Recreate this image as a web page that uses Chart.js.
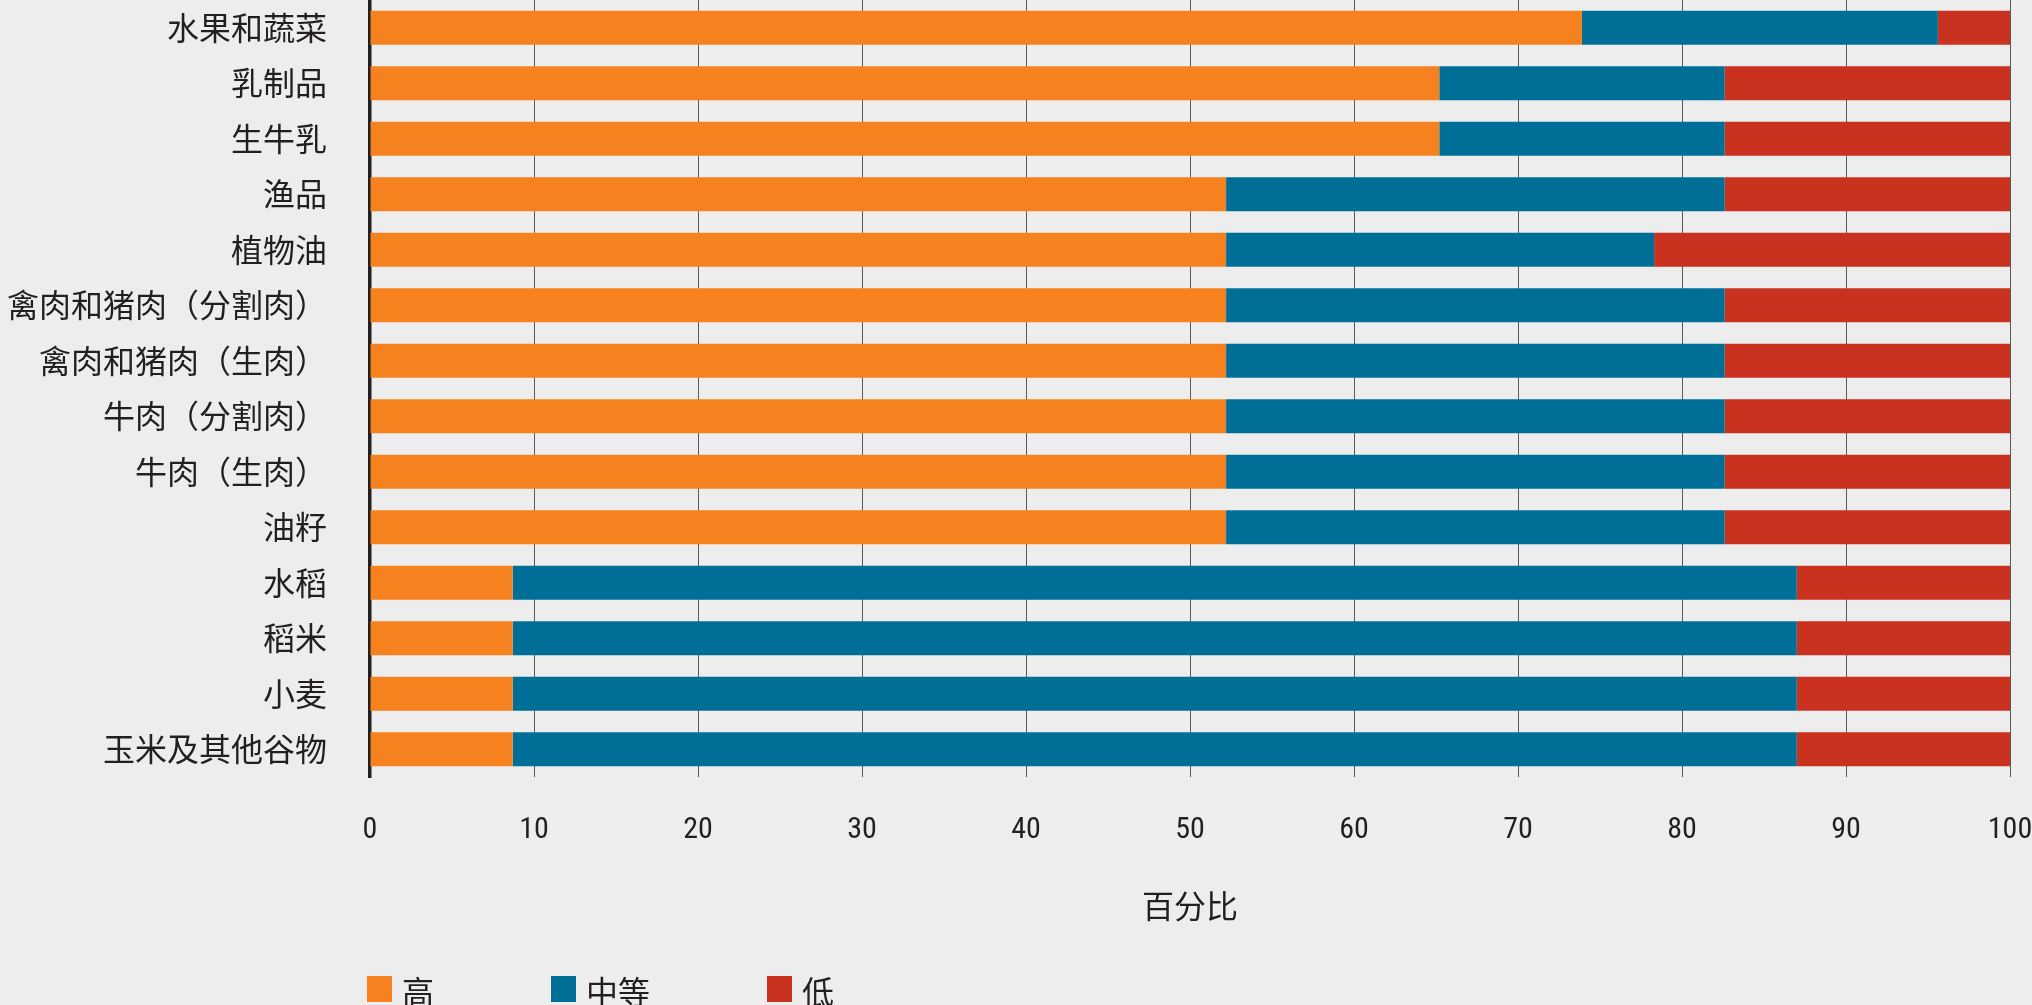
<!DOCTYPE html>
<html lang="zh">
<head>
  <meta charset="UTF-8">
  <title>百分比</title>
  <script src="https://cdn.jsdelivr.net/npm/chart.js"></script>
  <style>
    html, body { margin: 0; padding: 0; background: #ededed; }
    #wrap { position: relative; width: 2032px; height: 1005px; overflow: hidden; }
    #legend { position: absolute; left: 367px; top: 976px; display: flex; font-family: "Noto Sans CJK SC", sans-serif; font-size: 32px; color: #231f20; }
    .item { display: flex; align-items: flex-start; margin-right: 117px; }
    .box { width: 25px; height: 26px; margin-right: 10px; }
    .txt { line-height: 32px; margin-top: -2px; }
  </style>
</head>
<body>
  <div id="wrap">
    <canvas id="chart" width="2032" height="1005"></canvas>
    <div id="legend"></div>
  </div>

  <script>
    // 数据
    const categories = ['水果和蔬菜', '乳制品', '生牛乳', '渔品', '植物油', '禽肉和猪肉（分割肉）', '禽肉和猪肉（生肉）',
      '牛肉（分割肉）', '牛肉（生肉）', '油籽', '水稻', '稻米', '小麦', '玉米及其他谷物'];
    const high   = [73.9, 65.2, 65.2, 52.2, 52.2, 52.2, 52.2, 52.2, 52.2, 52.2, 8.7, 8.7, 8.7, 8.7];
    const medium = [21.7, 17.4, 17.4, 30.4, 26.1, 30.4, 30.4, 30.4, 30.4, 30.4, 78.3, 78.3, 78.3, 78.3];
    const low    = [4.4, 17.4, 17.4, 17.4, 21.7, 17.4, 17.4, 17.4, 17.4, 17.4, 13.0, 13.0, 13.0, 13.0];
    const xTicks = [0, 10, 20, 30, 40, 50, 60, 70, 80, 90, 100];

    const seriesNames = ['高', '中等', '低'];
    const colors = ['#f5821f', '#006f98', '#c8321e'];

    const numFont = '"Liberation Sans Narrow", "Roboto Condensed", "Noto Sans CJK SC", sans-serif';
    const cjkFont = '"Noto Sans CJK SC", sans-serif';
    const ink = '#231f20';

    const datasets = [high, medium, low].map((d, i) => ({
      label: seriesNames[i],
      data: d,
      backgroundColor: colors[i],
      borderWidth: 0,
      categoryPercentage: 1,
      barPercentage: 0.615
    }));

    new Chart(document.getElementById('chart'), {
      type: 'bar',
      data: { labels: categories, datasets },
      options: {
        indexAxis: 'y',
        responsive: false,
        animation: false,
        layout: { autoPadding: false, padding: { left: 0, right: 22, top: 0, bottom: 80 } },
        plugins: { legend: { display: false }, title: { display: false }, tooltip: { enabled: false } },
        scales: {
          x: {
            stacked: true,
            min: 0,
            max: 100,
            afterBuildTicks: s => { s.ticks = xTicks.map(v => ({ value: v })); },
            afterFit: s => { s.height = 148; s.paddingLeft = 0; s.paddingRight = 0; },
            grid: { color: '#5a5a5a', lineWidth: 1, drawTicks: false },
            border: { display: false },
            ticks: { color: ink, padding: 35, font: { family: numFont, size: 30 } },
            title: {
              display: true, text: '百分比', color: ink,
              font: { family: cjkFont, size: 32 },
              padding: { top: 39, bottom: 0 }
            }
          },
          y: {
            stacked: true,
            afterFit: s => { s.width = 370; s.paddingTop = 0; s.paddingBottom = 0; },
            grid: { display: false, drawTicks: false },
            border: { display: true, color: ink, width: 3.5 },
            ticks: { color: ink, padding: 43, font: { family: cjkFont, size: 32 } }
          }
        }
      }
    });

    // 图例
    const legend = document.getElementById('legend');
    seriesNames.forEach((name, i) => {
      const item = document.createElement('div');
      item.className = 'item';
      item.innerHTML = `<div class="box" style="background:${colors[i]}"></div><div class="txt">${name}</div>`;
      legend.appendChild(item);
    });
  </script>
</body>
</html>
